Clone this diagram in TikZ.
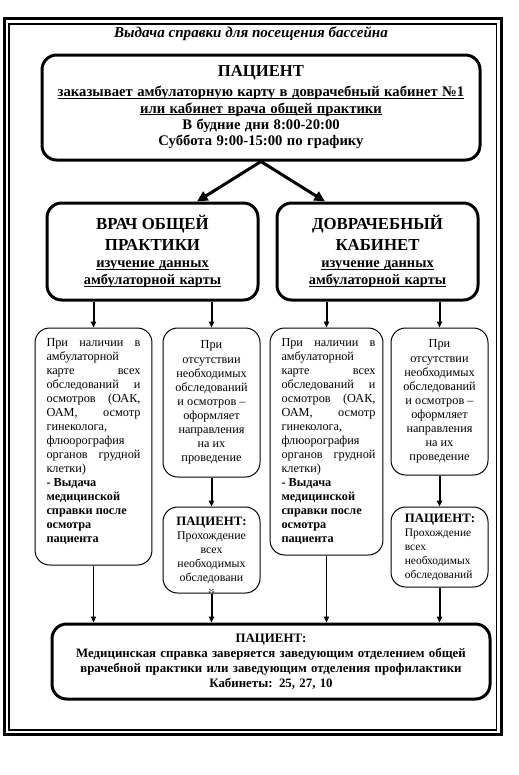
\documentclass[tikz,border=0pt]{standalone}
\usepackage{fontspec}
\setmainfont{Liberation Serif}
\usetikzlibrary{arrows.meta,calc}
\newcommand{\myul}[1]{\leavevmode\setbox0\hbox{#1}\rlap{\rule[-1.6pt]{\wd0}{0.6pt}}\box0}
\begin{document}
\begin{tikzpicture}[x=0.75pt,y=-0.75pt,
  bigbox/.style={draw, line width=2.25pt, rounded corners=11pt, align=center, inner sep=0pt},
  smallbox/.style={draw, line width=0.75pt, rounded corners=11pt, inner sep=0pt},
  bigarrow/.style={line width=2.25pt, -{Triangle[length=8pt,width=7.5pt]}},
  midarrow/.style={line width=1.5pt, -{Triangle[length=4.5pt,width=4pt]}},
  thinarrow/.style={line width=0.75pt, -{Triangle[length=4.5pt,width=4pt]}},
  frameouter/.style={line width=2.25pt},
  frameinner/.style={line width=1.2pt}
]
\useasboundingbox (0,0) rectangle (518,775);
\draw[frameouter] (4.5,18.5) rectangle (501.5,734.5);
\draw[frameinner] (9,24) rectangle (496.5,730);

\node[font=\bfseries\itshape\fontsize{11.3}{12}\selectfont] (title) at (251,34) {Выдача справки для посещения бассейна};

\node[bigbox, text width=325pt, minimum width=328.5pt, minimum height=78.75pt] (top) at (261,107.5)
 {\bfseries{\fontsize{12.5}{14}\selectfont ПАЦИЕНТ\par}\vspace{2.5pt}
  {\fontsize{11}{12.3}\selectfont \myul{заказывает амбулаторную карту в доврачебный кабинет №1}\\
  \myul{или кабинет врача общей практики}\\
  В будние дни 8:00-20:00\\
  Суббота 9:00-15:00 по графику\par}};

\node[bigbox, text width=150pt, minimum width=158.25pt, minimum height=72.75pt] (vop) at (152.5,251.5)
 {\bfseries{\fontsize{12.6}{15.75}\selectfont ВРАЧ ОБЩЕЙ\\ПРАКТИКИ\par}
  {\fontsize{10.8}{12.75}\selectfont \myul{изучение данных}\\\myul{амбулаторной карты}\par}};

\node[bigbox, text width=145pt, minimum width=150.75pt, minimum height=72.75pt] (dov) at (377.5,251.5)
 {\bfseries{\fontsize{12.6}{15.75}\selectfont ДОВРАЧЕБНЫЙ\\КАБИНЕТ\par}
  {\fontsize{10.8}{12.75}\selectfont \myul{изучение данных}\\\myul{амбулаторной карты}\par}};

\node[smallbox, inner xsep=8.6pt] (A) at (93.5,446.5)
 {\parbox[c][177.75pt][t]{70.5pt}{\fontsize{9.2}{10.55}\selectfont\raggedright\vspace*{7.5pt}
  При\hfill наличии\hfill в\\
  амбулаторной\\
  карте\hfill всех\\
  обследований\hfill и\\
  осмотров\hfill (ОАК,\\
  ОАМ,\hfill осмотр\\
  гинеколога,\\
  флюорография\\
  органов\hfill грудной\\
  клетки)\\
  {\bfseries - Выдача\\
  медицинской\\
  справки после\\
  осмотра\\
  пациента}}};

\node[smallbox, inner xsep=5.6pt] (D) at (326.5,441.5)
 {\parbox[c][170.25pt][t]{73.5pt}{\fontsize{9.2}{10.55}\selectfont\raggedright\vspace*{7.5pt}
  \hspace*{3pt}При\hfill наличии\hfill в\\
  \hspace*{3pt}амбулаторной\\
  \hspace*{3pt}карте\hfill всех\\
  \hspace*{3pt}обследований\hfill и\\
  \hspace*{3pt}осмотров\hfill (ОАК,\\
  \hspace*{3pt}ОАМ,\hfill осмотр\\
  \hspace*{3pt}гинеколога,\\
  \hspace*{3pt}флюорография\\
  \hspace*{3pt}органов\hfill грудной\\
  \hspace*{3pt}клетки)\\
  {\bfseries \hspace*{3pt}- Выдача\\
  \hspace*{3pt}медицинской\\
  \hspace*{3pt}справки после\\
  \hspace*{3pt}осмотра\\
  \hspace*{3pt}пациента}}};

\node[smallbox, minimum width=72.75pt, minimum height=111.75pt, align=center,
      font=\fontsize{9.2}{10.55}\selectfont] (B) at (211.5,402.5)
 {При\\отсутствии\\необходимых\\обследований\\и осмотров –\\оформляет\\направления\\на их\\проведение};

\node[smallbox, minimum width=72.75pt, minimum height=110.25pt, align=center,
      font=\fontsize{9.2}{10.55}\selectfont] (E) at (439.5,401.5)
 {При\\отсутствии\\необходимых\\обследований\\и осмотров –\\оформляет\\направления\\на их\\проведение};

\node[smallbox, minimum width=72.75pt, minimum height=64.5pt, align=center,
      font=\fontsize{8.9}{10.5}\selectfont] (C) at (211.5,550)
 {{\bfseries\fontsize{9.6}{10.5}\selectfont ПАЦИЕНТ:}\\Прохождение\\всех\\необходимых\\обследовани};
\begin{scope}
  \clip ($(C.south west)+(2,-1)$) rectangle ($(C.north east)+(-2,1)$);
  \node[font=\fontsize{8.9}{10.5}\selectfont, anchor=base] (Cy) at ($(C.south)+(0,4)$) {й};
\end{scope}

\node[smallbox, minimum width=72.75pt, minimum height=60pt,
      font=\fontsize{8.6}{10.5}\selectfont] (F) at (439.5,547)
 {\parbox{52pt}{\centering{\bfseries\fontsize{9.6}{10.5}\selectfont ПАЦИЕНТ:}\par\raggedright Прохождение\\всех\\необходимых\\обследований}};

\node[bigbox, text width=325pt, minimum width=328.5pt, minimum height=56.25pt,
      font=\bfseries\fontsize{9.65}{11.25}\selectfont] (G) at (271,661.5)
 {ПАЦИЕНТ:\\Медицинская справка заверяется заведующим отделением общей\\врачебной практики или заведующим отделения профилактики\\Кабинеты: 25, 27, 10};

\draw[bigarrow] (top.south) -- ($(vop.north)+(44.5,0)$);
\draw[bigarrow] (top.south) -- ($(dov.north)+(-52.5,0)$);
\draw[midarrow] (vop.south -| A.north) -- (A.north);
\draw[midarrow] (vop.south -| B.north) -- (B.north);
\draw[midarrow] (dov.south -| D.north) -- (D.north);
\draw[midarrow] (dov.south -| E.north) -- (E.north);
\draw[midarrow] (B.south) -- (C.north);
\draw[midarrow] (E.south) -- (F.north);
\draw[thinarrow] (A.south) -- (G.north -| A.south);
\draw[midarrow] (C.south) -- (G.north -| C.south);
\draw[thinarrow] (D.south) -- (G.north -| D.south);
\draw[midarrow] (F.south) -- (G.north -| F.south);
\end{tikzpicture}
\end{document}
